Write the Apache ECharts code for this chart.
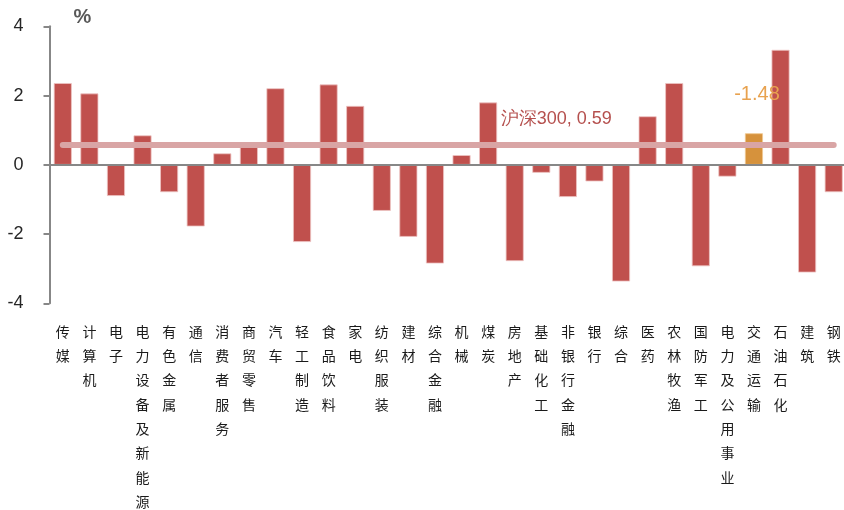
<!DOCTYPE html>
<html>
<head>
<meta charset="utf-8">
<script src="https://cdn.jsdelivr.net/npm/echarts@6/dist/echarts.min.js"></script>
<style>html,body{margin:0;padding:0;background:#fff;}#chart{width:844px;height:510px;}</style>
</head>
<body>
<div id="chart"></div>
<script>
const categories = ['传媒','计算机','电子','电力设备及新能源','有色金属','通信','消费者服务','商贸零售','汽车','轻工制造','食品饮料','家电','纺织服装','建材','综合金融','机械','煤炭','房地产','基础化工','非银行金融','银行','综合','医药','农林牧渔','国防军工','电力及公用事业','交通运输','石油石化','建筑','钢铁'];
const values = [2.36, 2.06, -0.90, 0.85, -0.79, -1.78, 0.33, 0.52, 2.21, -2.23, 2.32, 1.70, -1.33, -2.08, -2.85, 0.28, 1.80, -2.78, -0.23, -0.93, -0.48, -3.37, 1.40, 2.36, -2.93, -0.34, 0.91, 3.32, -3.11, -0.79];
const benchmarkName = '沪深300';
const benchmarkValue = 0.59;
const highlightIndex = 26;
const highlightLabel = '-1.48';
const yTicks = [-4, -2, 0, 2, 4];

const barColor = '#c0504d';
const hiColor = '#d6923c';

const chart = echarts.init(document.getElementById('chart'));
const barData = values.map((v, i) => {
  if (i === highlightIndex) {
    return {
      value: v,
      itemStyle: { color: hiColor, borderColor: '#f0c890' },
      label: { show: true, position: 'top', distance: 29, offset: [3, 0], formatter: highlightLabel, color: '#e8a24f', fontSize: 20, fontFamily: 'Liberation Sans' }
    };
  }
  return v;
});

chart.setOption({
  animation: false,
  grid: { left: 49.5, right: -3, top: 26.3, bottom: 206.7, containLabel: false, outerBoundsMode: 'none' },
  xAxis: {
    type: 'category',
    data: categories,
    axisLine: { show: false, onZero: false },
    axisTick: { show: false },
    axisLabel: {
      interval: 0,
      margin: 16,
      fontFamily: 'Noto Sans CJK SC',
      fontSize: 14,
      lineHeight: 24.3,
      color: '#1a1a1a',
      verticalAlign: 'top',
      formatter: s => s.split('').join('\n')
    },
    splitLine: { show: false }
  },
  yAxis: {
    type: 'value',
    min: yTicks[0],
    max: yTicks[yTicks.length - 1],
    interval: 2,
    name: '%',
    nameLocation: 'end',
    nameGap: 0,
    nameTextStyle: { fontSize: 20, color: '#595959', fontWeight: 'bold', fontFamily: 'Liberation Sans', align: 'left', verticalAlign: 'bottom', padding: [0, 0, -1, 24] },
    axisLine: { show: true, lineStyle: { color: '#878787', width: 2 } },
    axisTick: { show: true, length: 6, lineStyle: { color: '#878787', width: 2 } },
    axisLabel: { fontSize: 18, color: '#262626', fontFamily: 'Liberation Sans', margin: 26 },
    splitLine: { show: false }
  },
  series: [
    {
      type: 'bar',
      data: barData,
      barWidth: 18,
      itemStyle: { color: barColor, borderColor: '#eec4c3', borderWidth: 0.8 },
      markLine: {
        silent: true,
        symbol: 'none',
        label: { show: false },
        data: [
          { yAxis: 0, lineStyle: { color: '#878787', width: 2, type: 'solid' } },
          [
            { coord: [categories[0], benchmarkValue], lineStyle: { color: '#d9a5a5', width: 6, type: 'solid', cap: 'round' } },
            { coord: [categories[categories.length - 1], benchmarkValue] }
          ]
        ]
      },
      markPoint: {
        silent: true,
        symbol: 'circle',
        symbolSize: 0,
        data: [
          {
            coord: [categories[18], benchmarkValue],
            label: { show: true, position: 'inside', offset: [15, -25], formatter: benchmarkName + ', ' + benchmarkValue, color: '#b5504e', fontSize: 18, fontFamily: 'Liberation Sans' }
          }
        ]
      }
    }
  ]
});
</script>
</body>
</html>
